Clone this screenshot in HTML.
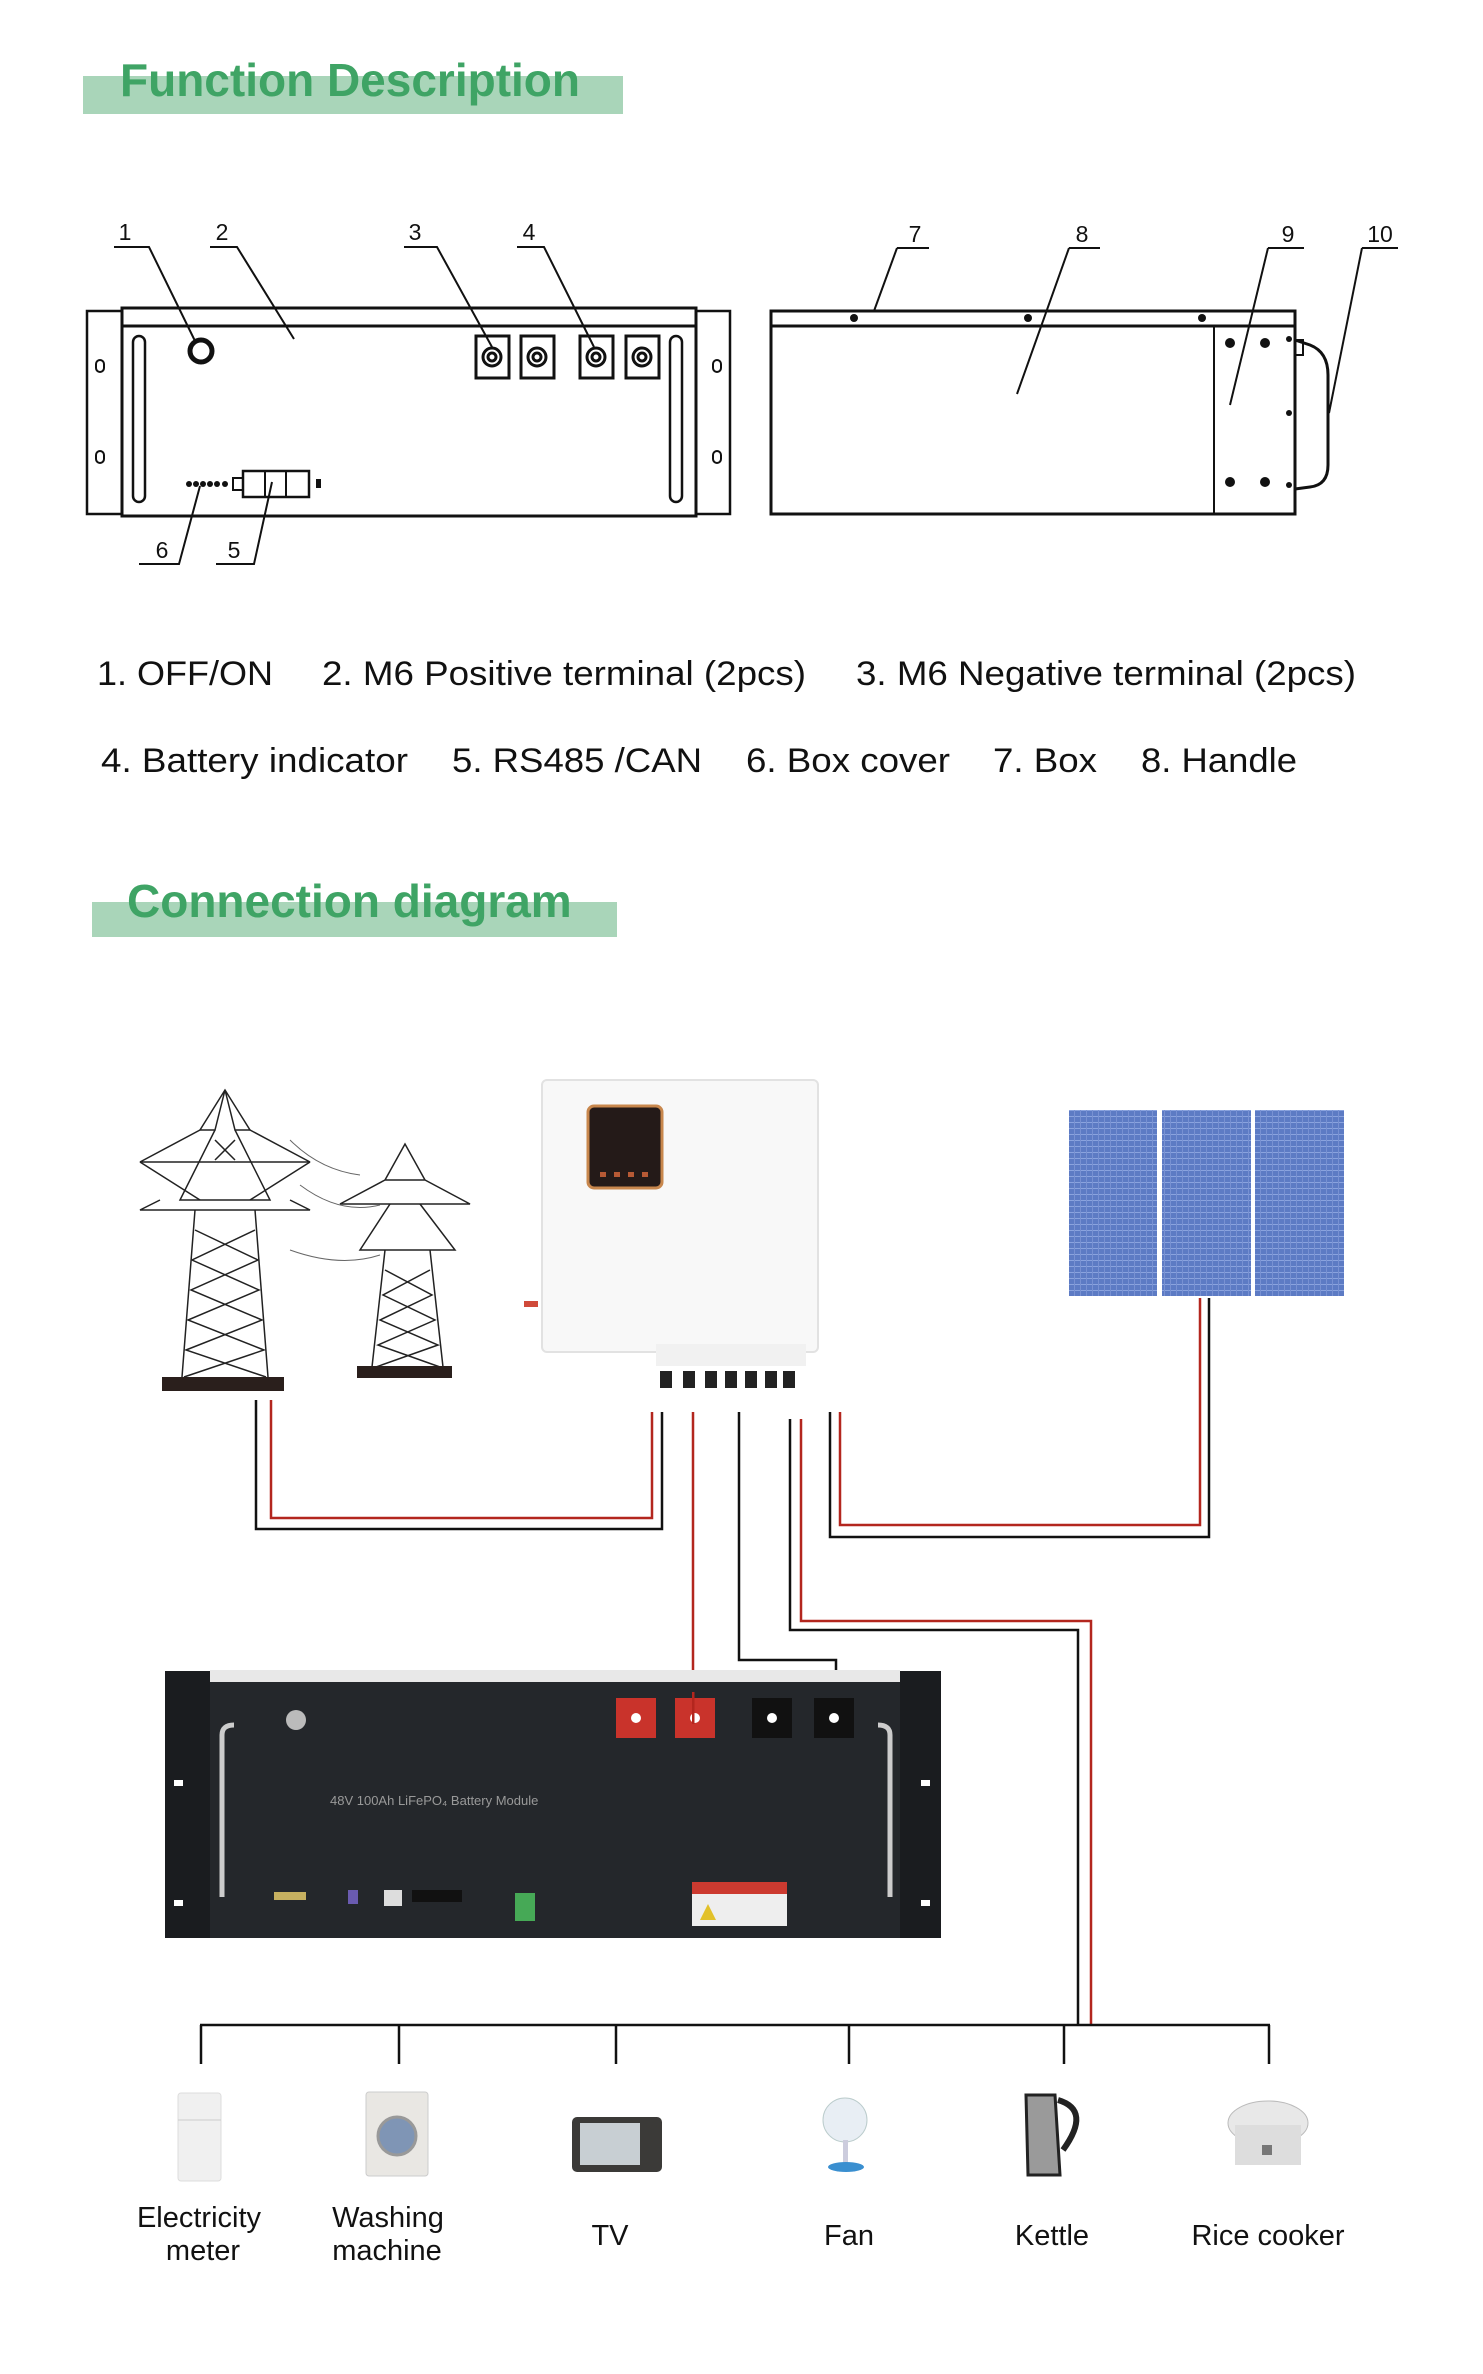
<!DOCTYPE html>
<html><head><meta charset="utf-8"><style>
html,body{margin:0;padding:0;background:#fff}
svg{display:block}
.t{font-family:"Liberation Sans Narrow","Liberation Sans",sans-serif}
</style></head><body>
<svg width="1483" height="2374" viewBox="0 0 1483 2374" xmlns="http://www.w3.org/2000/svg">
<!-- Header 1 -->
<rect x="83" y="76" width="540" height="38" fill="#a9d5b9"/>
<text x="120" y="96" class="t" font-family="Liberation Sans" font-weight="bold" font-size="46" fill="#3fa465">Function Description</text>

<!-- Front panel -->
<g fill="none" stroke="#111" stroke-width="2.5">
<rect x="87" y="311" width="35" height="203"/>
<rect x="696" y="311" width="34" height="203"/>
<rect x="122" y="308" width="574" height="208" stroke-width="3"/>
<line x1="122" y1="326" x2="696" y2="326" stroke-width="3"/>
<rect x="133" y="336" width="12" height="166" rx="6"/>
<rect x="670" y="336" width="12" height="166" rx="6"/>
<rect x="96" y="360" width="8" height="12" rx="4" stroke-width="2"/>
<rect x="96" y="451" width="8" height="12" rx="4" stroke-width="2"/>
<rect x="713" y="360" width="8" height="12" rx="4" stroke-width="2"/>
<rect x="713" y="451" width="8" height="12" rx="4" stroke-width="2"/>
<circle cx="201" cy="351" r="11" stroke-width="5"/>
</g>
<g fill="none" stroke="#111" stroke-width="3">
<rect x="476" y="336" width="33" height="42"/><circle cx="492" cy="357" r="9"/><circle cx="492" cy="357" r="4"/>
<rect x="521" y="336" width="33" height="42"/><circle cx="537" cy="357" r="9"/><circle cx="537" cy="357" r="4"/>
<rect x="580" y="336" width="33" height="42"/><circle cx="596" cy="357" r="9"/><circle cx="596" cy="357" r="4"/>
<rect x="626" y="336" width="33" height="42"/><circle cx="642" cy="357" r="9"/><circle cx="642" cy="357" r="4"/>
<rect x="243" y="471" width="66" height="26" stroke-width="2.5"/>
<line x1="265" y1="471" x2="265" y2="497" stroke-width="2"/><line x1="286" y1="471" x2="286" y2="497" stroke-width="2"/>
<rect x="233" y="478" width="10" height="12" stroke-width="2"/>
</g>
<g fill="#111"><circle cx="189" cy="484" r="3"/><circle cx="196" cy="484" r="3"/><circle cx="203" cy="484" r="3"/><circle cx="210" cy="484" r="3"/><circle cx="217" cy="484" r="3"/><circle cx="225" cy="484" r="3"/><rect x="316" y="479" width="5" height="9"/></g>

<!-- leaders front -->
<g stroke="#111" stroke-width="2" fill="none">
<polyline points="114,247 149,247 196,343"/>
<polyline points="210,247 237,247 294,339"/>
<polyline points="404,247 437,247 492,347"/>
<polyline points="517,247 544,247 594,347"/>
<polyline points="139,564 179,564 200,486"/>
<polyline points="216,564 254,564 272,482"/>
<polyline points="897,248 929,248"/><line x1="897" y1="248" x2="874" y2="311"/>
<polyline points="1069,248 1100,248"/><line x1="1069" y1="248" x2="1017" y2="394"/>
<polyline points="1268,248 1304,248"/><line x1="1268" y1="248" x2="1230" y2="405"/>
<polyline points="1362,248 1398,248"/><line x1="1362" y1="248" x2="1329" y2="413"/>
</g>
<g class="t" font-size="23" fill="#111" text-anchor="middle">
<text x="125" y="240">1</text><text x="222" y="240">2</text><text x="415" y="240">3</text><text x="529" y="240">4</text>
<text x="162" y="558">6</text><text x="234" y="558">5</text>
<text x="915" y="242">7</text><text x="1082" y="242">8</text><text x="1288" y="242">9</text><text x="1380" y="242">10</text>
</g>

<!-- Side view -->
<g fill="none" stroke="#111" stroke-width="3">
<rect x="771" y="311" width="524" height="203"/>
<line x1="771" y1="326" x2="1295" y2="326"/>
<line x1="1214" y1="326" x2="1214" y2="514" stroke-width="2"/>
<path d="M1295,340 L1310,345 Q1328,352 1328,375 L1328,465 Q1328,485 1310,487 L1295,489" stroke-width="3"/>
<rect x="1295" y="340" width="8" height="15" stroke-width="2"/>
</g>
<g fill="#111">
<circle cx="854" cy="318" r="4"/><circle cx="1028" cy="318" r="4"/><circle cx="1202" cy="318" r="4"/>
<circle cx="1230" cy="343" r="5"/><circle cx="1265" cy="343" r="5"/><circle cx="1230" cy="482" r="5"/><circle cx="1265" cy="482" r="5"/>
<circle cx="1289" cy="339" r="3"/><circle cx="1289" cy="413" r="3"/><circle cx="1289" cy="485" r="3"/>
</g>

<!-- descriptions -->
<g class="t" font-family="Liberation Sans" font-size="34" fill="#111">
<text x="97" y="685" textLength="176" lengthAdjust="spacingAndGlyphs">1. OFF/ON</text>
<text x="322" y="685" textLength="484" lengthAdjust="spacingAndGlyphs">2. M6 Positive terminal (2pcs)</text>
<text x="856" y="685" textLength="500" lengthAdjust="spacingAndGlyphs">3. M6 Negative terminal (2pcs)</text>
<text x="101" y="772" textLength="307" lengthAdjust="spacingAndGlyphs">4. Battery indicator</text>
<text x="452" y="772" textLength="250" lengthAdjust="spacingAndGlyphs">5. RS485 /CAN</text>
<text x="746" y="772" textLength="204" lengthAdjust="spacingAndGlyphs">6. Box cover</text>
<text x="993" y="772" textLength="104" lengthAdjust="spacingAndGlyphs">7. Box</text>
<text x="1141" y="772" textLength="156" lengthAdjust="spacingAndGlyphs">8. Handle</text>
</g>

<!-- Header 2 -->
<rect x="92" y="902" width="525" height="35" fill="#a9d5b9"/>
<text x="127" y="917" font-family="Liberation Sans" font-weight="bold" font-size="46" fill="#3fa465">Connection diagram</text>

<!-- Towers -->
<g stroke="#222" stroke-width="1.5" fill="none">
<path d="M225,1090 L200,1130 L215,1130 L225,1090 L235,1130 L250,1130 Z"/>
<path d="M200,1130 L140,1162 L310,1162 L250,1130"/>
<path d="M215,1130 L180,1200 L270,1200 L235,1130"/>
<path d="M160,1200 L140,1210 L310,1210 L290,1200"/>
<path d="M195,1210 L182,1377 M255,1210 L268,1377"/>
<path d="M195,1230 L258,1260 L191,1290 L262,1320 L186,1350 L266,1377 M255,1230 L192,1260 L259,1290 L188,1320 L264,1350 L184,1377"/>
<path d="M140,1162 L200,1200 M310,1162 L250,1200 M215,1140 L235,1160 M235,1140 L215,1160"/>
<path d="M405,1144 L385,1180 L425,1180 Z M385,1180 L340,1204 L470,1204 L425,1180"/>
<path d="M390,1204 L360,1250 L455,1250 L420,1204 M385,1250 L372,1367 M430,1250 L443,1367"/>
<path d="M385,1270 L432,1295 L380,1320 L438,1345 L376,1367 M430,1270 L383,1295 L435,1320 L378,1345 L440,1367"/>
<path d="M290,1140 Q320,1170 360,1175 M300,1185 Q340,1215 380,1205 M290,1250 Q340,1268 380,1255" stroke="#666" stroke-width="1"/>
</g>
<rect x="162" y="1377" width="122" height="14" fill="#2a1f1c"/>
<rect x="357" y="1366" width="95" height="12" fill="#2a1f1c"/>

<!-- Inverter -->
<rect x="542" y="1080" width="276" height="272" rx="5" fill="#f8f8f8" stroke="#e2e2e2" stroke-width="2"/>
<rect x="656" y="1344" width="150" height="22" fill="#f1f1f1"/>
<rect x="588" y="1106" width="74" height="82" rx="6" fill="#241a18" stroke="#c8874d" stroke-width="3"/>
<g fill="#b75a35"><rect x="600" y="1172" width="6" height="5"/><rect x="614" y="1172" width="6" height="5"/><rect x="628" y="1172" width="6" height="5"/><rect x="642" y="1172" width="6" height="5"/></g>
<rect x="524" y="1301" width="14" height="6" fill="#d04a3a"/>
<g fill="#222"><rect x="660" y="1371" width="12" height="17"/><rect x="683" y="1371" width="12" height="17"/><rect x="705" y="1371" width="12" height="17"/><rect x="725" y="1371" width="12" height="17"/><rect x="745" y="1371" width="12" height="17"/><rect x="765" y="1371" width="12" height="17"/><rect x="783" y="1371" width="12" height="17"/></g>

<!-- Solar -->
<defs><pattern id="pv" width="6" height="6" patternUnits="userSpaceOnUse"><rect width="6" height="6" fill="#5d7bc4"/><rect width="6" height="1" fill="#8aa3de"/><rect width="1" height="6" fill="#7891d2"/></pattern></defs>
<rect x="1069" y="1110" width="88" height="186" fill="url(#pv)"/>
<rect x="1162" y="1110" width="89" height="186" fill="url(#pv)"/>
<rect x="1255" y="1110" width="89" height="186" fill="url(#pv)"/>

<!-- Wires -->
<g fill="none" stroke-width="2.5">
<polyline points="256,1400 256,1529 662,1529 662,1412" stroke="#111"/>
<polyline points="271,1400 271,1518 652,1518 652,1412" stroke="#b3261e"/>
<polyline points="693,1412 693,1724" stroke="#b3261e"/>
<polyline points="739,1412 739,1660 836,1660 836,1724" stroke="#111"/>
<polyline points="790,1419 790,1630 1078,1630 1078,2025" stroke="#111"/>
<polyline points="801,1419 801,1621 1091,1621 1091,2025" stroke="#b3261e"/>
<polyline points="830,1412 830,1537 1209,1537 1209,1298" stroke="#111"/>
<polyline points="840,1412 840,1525 1200,1525 1200,1298" stroke="#b3261e"/>
</g>

<!-- Battery -->
<rect x="165" y="1671" width="776" height="267" fill="#24272b"/>
<rect x="210" y="1670" width="690" height="12" fill="#e8e8e8"/>
<rect x="165" y="1671" width="45" height="267" fill="#1a1c1f"/>
<rect x="900" y="1671" width="41" height="267" fill="#1a1c1f"/>
<g fill="#fff"><rect x="174" y="1780" width="9" height="6"/><rect x="174" y="1900" width="9" height="6"/><rect x="921" y="1780" width="9" height="6"/><rect x="921" y="1900" width="9" height="6"/></g>
<path d="M222,1897 L222,1735 Q222,1725 234,1725" stroke="#ccc" stroke-width="5" fill="none"/>
<path d="M890,1897 L890,1735 Q890,1725 878,1725" stroke="#ccc" stroke-width="5" fill="none"/>
<circle cx="296" cy="1720" r="10" fill="#bbb"/>
<text x="330" y="1805" font-family="Liberation Sans" font-size="13" fill="#999">48V 100Ah LiFePO₄ Battery Module</text>
<rect x="616" y="1698" width="40" height="40" fill="#c9332b"/><rect x="675" y="1698" width="40" height="40" fill="#c9332b"/>
<rect x="752" y="1698" width="40" height="40" fill="#111"/><rect x="814" y="1698" width="40" height="40" fill="#111"/>
<g fill="#fff"><circle cx="636" cy="1718" r="5"/><circle cx="695" cy="1718" r="5"/><circle cx="772" cy="1718" r="5"/><circle cx="834" cy="1718" r="5"/></g>
<rect x="693" y="1708" width="1" height="0"/>
<rect x="692" y="1692" width="2.5" height="32" fill="#b3261e"/>
<rect x="274" y="1892" width="32" height="8" fill="#c6b060"/>
<rect x="348" y="1890" width="10" height="14" fill="#6a5bb0"/>
<rect x="384" y="1890" width="18" height="16" fill="#ddd"/>
<rect x="412" y="1890" width="50" height="12" fill="#111"/>
<rect x="515" y="1893" width="20" height="28" fill="#46a956"/>
<rect x="692" y="1882" width="95" height="44" fill="#eee"/><rect x="692" y="1882" width="95" height="12" fill="#cc3a30"/>
<path d="M700,1920 L708,1904 L716,1920 Z" fill="#e2c12a"/>

<!-- Load bus -->
<g stroke="#111" stroke-width="2.5" fill="none">
<line x1="200" y1="2025" x2="1270" y2="2025"/>
<line x1="201" y1="2025" x2="201" y2="2064"/><line x1="399" y1="2025" x2="399" y2="2064"/><line x1="616" y1="2025" x2="616" y2="2064"/>
<line x1="849" y1="2025" x2="849" y2="2064"/><line x1="1064" y1="2025" x2="1064" y2="2064"/><line x1="1269" y1="2025" x2="1269" y2="2064"/>
</g>

<!-- Appliances -->
<rect x="178" y="2093" width="43" height="88" rx="3" fill="#f0f0f0" stroke="#ddd"/><line x1="178" y1="2120" x2="221" y2="2120" stroke="#ccc"/>
<rect x="366" y="2092" width="62" height="84" rx="3" fill="#e9e7e3" stroke="#ccc"/><circle cx="397" cy="2136" r="19" fill="#7f95b5" stroke="#999" stroke-width="3"/>
<rect x="572" y="2117" width="90" height="55" rx="5" fill="#3b3a38"/><rect x="580" y="2123" width="60" height="42" fill="#c8cfd3"/>
<circle cx="845" cy="2120" r="22" fill="#e8eef4" stroke="#bcc"/><rect x="843" y="2140" width="5" height="25" fill="#ccd"/><ellipse cx="846" cy="2167" rx="18" ry="5" fill="#3a8fd0"/>
<path d="M1026,2095 L1055,2095 L1060,2175 L1028,2175 Z" fill="#9a9a9a" stroke="#222" stroke-width="3"/><path d="M1058,2100 Q1092,2110 1063,2150" stroke="#222" stroke-width="6" fill="none"/>
<ellipse cx="1268" cy="2123" rx="40" ry="22" fill="#e8e8e8" stroke="#bbb"/><rect x="1235" y="2125" width="66" height="40" fill="#ddd"/><rect x="1262" y="2145" width="10" height="10" fill="#777"/>

<g class="t" font-size="29" fill="#111" text-anchor="middle">
<text x="199" y="2227">Electricity</text><text x="203" y="2260">meter</text>
<text x="388" y="2227">Washing</text><text x="387" y="2260">machine</text>
<text x="610" y="2245">TV</text>
<text x="849" y="2245">Fan</text>
<text x="1052" y="2245">Kettle</text>
<text x="1268" y="2245">Rice cooker</text>
</g>
</svg>
</body></html>
